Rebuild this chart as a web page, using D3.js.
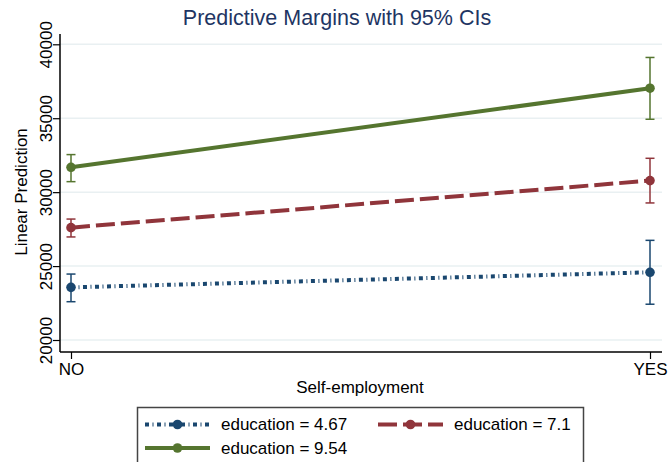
<!DOCTYPE html>
<html lang="en">
<head>
    <meta charset="utf-8">
    <title>Predictive Margins</title>
    <style>
        body{ margin:0; background:#fff; }
        #chart{ width:669px; height:462px; }
        text{ font-family:"Liberation Sans", Arial, sans-serif; }
    </style>
    <script src="https://cdn.jsdelivr.net/npm/d3@7"></script>
</head>
<body>
<div id="chart"></div>
<script>
    // data
    var categories = ["NO", "YES"];
    var seriesNames = ["education = 4.67", "education = 7.1", "education = 9.54"];
    var margin467 = [23560, 24580];
    var lower467 = [22590, 22420];
    var upper467 = [24460, 26740];
    var margin71 = [27600, 30780];
    var lower71 = [26970, 29270];
    var upper71 = [28180, 32290];
    var margin954 = [31680, 37030];
    var lower954 = [30710, 34930];
    var upper954 = [32540, 39110];
    var yTicks = [20000, 25000, 30000, 35000, 40000];

    var series = [
        {name: seriesNames[0], m: margin467, lo: lower467, hi: upper467, color: "#1a476f", dash: "4,3.5,1,3.5", width: 4},
        {name: seriesNames[1], m: margin71, lo: lower71, hi: upper71, color: "#90353b", dash: "19,6", width: 4},
        {name: seriesNames[2], m: margin954, lo: lower954, hi: upper954, color: "#55752f", dash: null, width: 4}
    ];

    var svg = d3.select("#chart").append("svg")
        .attr("width", 669)
        .attr("height", 462);

    var x = d3.scalePoint().domain(categories).range([71, 650]);
    var y = d3.scaleLinear().domain([20000, 40000]).range([340, 44.3]);

    // title
    svg.append("text")
        .attr("x", 337).attr("y", 25)
        .attr("text-anchor", "middle")
        .style("font-size", "21.5px")
        .style("fill", "#1e3563")
        .text("Predictive Margins with 95% CIs");

    // grid
    svg.append("g").selectAll("line")
        .data(yTicks)
        .enter().append("line")
        .attr("x1", 60).attr("x2", 662)
        .attr("y1", function(d){ return y(d); })
        .attr("y2", function(d){ return y(d); })
        .attr("stroke", "#e9f0f2")
        .attr("stroke-width", 1.5);

    // y axis
    var yAxis = svg.append("g")
        .attr("transform", "translate(60,0)")
        .call(d3.axisLeft(y).tickValues(yTicks).tickSize(7).tickPadding(8).tickFormat(d3.format("d")));
    yAxis.select(".domain").remove();
    yAxis.selectAll(".tick line").attr("stroke", "#000").attr("stroke-width", 1.2);
    yAxis.selectAll(".tick text")
        .attr("transform", "rotate(-90)")
        .attr("x", 0).attr("y", -8)
        .attr("dy", 0)
        .attr("text-anchor", "middle")
        .style("font-size", "17px")
        .style("fill", "#000");
    svg.append("line")
        .attr("x1", 60).attr("x2", 60).attr("y1", 34).attr("y2", 352)
        .attr("stroke", "#000").attr("stroke-width", 1.5);

    // x axis
    var xAxis = svg.append("g")
        .attr("transform", "translate(0,352)")
        .call(d3.axisBottom(x).tickSize(7).tickPadding(4));
    xAxis.select(".domain").remove();
    xAxis.selectAll(".tick line").attr("stroke", "#000").attr("stroke-width", 1.2);
    xAxis.selectAll(".tick text")
        .attr("dy", "0.71em")
        .style("font-size", "17px")
        .style("fill", "#000");
    svg.append("line")
        .attr("x1", 60).attr("x2", 662).attr("y1", 352).attr("y2", 352)
        .attr("stroke", "#000").attr("stroke-width", 1.5);

    // axis titles
    svg.append("text")
        .attr("transform", "translate(27,192) rotate(-90)")
        .attr("text-anchor", "middle")
        .style("font-size", "17px")
        .text("Linear Prediction");
    svg.append("text")
        .attr("x", 360).attr("y", 393)
        .attr("text-anchor", "middle")
        .style("font-size", "17px")
        .text("Self-employment");

    // error bars
    var line = d3.line()
        .x(function(d, i){ return x(categories[i]); })
        .y(function(d){ return y(d); });

    series.forEach(function(s) {
        var g = svg.append("g");
        categories.forEach(function(c, i) {
            var cx = x(c);
            g.append("line")
                .attr("x1", cx).attr("x2", cx)
                .attr("y1", y(s.lo[i])).attr("y2", y(s.hi[i]))
                .attr("stroke", s.color).attr("stroke-width", 1.5);
            [s.lo[i], s.hi[i]].forEach(function(v) {
                g.append("line")
                    .attr("x1", cx - 4.5).attr("x2", cx + 4.5)
                    .attr("y1", y(v)).attr("y2", y(v))
                    .attr("stroke", s.color).attr("stroke-width", 1.5);
            });
        });
    });

    // lines and markers
    series.forEach(function(s) {
        svg.append("path")
            .datum(s.m)
            .attr("d", line)
            .attr("fill", "none")
            .attr("stroke", s.color)
            .attr("stroke-width", s.width)
            .attr("stroke-dasharray", s.dash);
        svg.append("g").selectAll("circle")
            .data(s.m)
            .enter().append("circle")
            .attr("cx", function(d, i){ return x(categories[i]); })
            .attr("cy", function(d){ return y(d); })
            .attr("r", 4.8)
            .attr("fill", s.color);
    });

    // legend
    var lg = svg.append("g");
    lg.append("rect")
        .attr("x", 137.5).attr("y", 407.5)
        .attr("width", 446).attr("height", 62)
        .attr("fill", "#fff")
        .attr("stroke", "#444")
        .attr("stroke-width", 1.5);
    var legendPos = [[145, 424.5], [378, 424.5], [145, 448]];
    series.forEach(function(s, i) {
        var p = legendPos[i];
        lg.append("line")
            .attr("x1", p[0]).attr("x2", p[0] + 65)
            .attr("y1", p[1]).attr("y2", p[1])
            .attr("stroke", s.color)
            .attr("stroke-width", s.width)
            .attr("stroke-dasharray", s.dash);
        lg.append("circle")
            .attr("cx", p[0] + 32.5).attr("cy", p[1])
            .attr("r", 4.8)
            .attr("fill", s.color);
        lg.append("text")
            .attr("x", p[0] + 76).attr("y", p[1])
            .attr("dy", "0.35em")
            .style("font-size", "17px")
            .text(s.name);
    });
</script>
</body>
</html>
